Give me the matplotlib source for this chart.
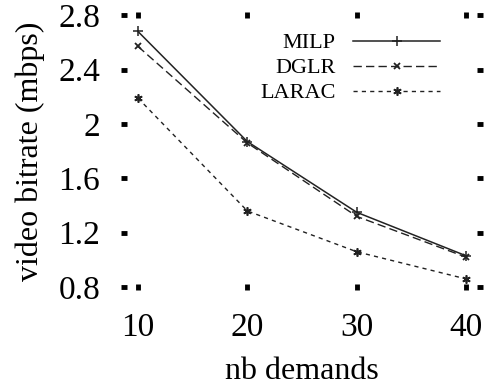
import matplotlib

matplotlib.use("Agg")
import matplotlib.pyplot as plt

plt.rcParams["font.family"] = ["Liberation Serif", "DejaVu Serif"]

demands = [10, 20, 30, 40]
milp = [2.68, 1.87, 1.35, 1.03]
dglr = [2.57, 1.86, 1.32, 1.02]
larac = [2.19, 1.36, 1.06, 0.86]

yticks = [0.8, 1.2, 1.6, 2.0, 2.4, 2.8]
ytick_labels = ["0.8", "1.2", "1.6", "2", "2.4", "2.8"]

fig = plt.figure(figsize=(4.88, 3.88), dpi=100)
ax = fig.add_axes([0.254, 0.260, 0.730, 0.701])

ax.plot(demands, milp, color="#222222", linewidth=1.1, linestyle="-",
        marker="+", markersize=7, markeredgewidth=1.1, label="MILP")
ax.plot(demands, dglr, color="#222222", linewidth=1.0, linestyle=(0, (6, 3)),
        marker="x", markersize=5, markeredgewidth=1.3, label="DGLR")
ax.plot(demands, larac, color="#222222", linewidth=1.0, linestyle=(0, (3, 3)),
        marker=(6, 2, 0), markersize=6, markeredgewidth=1.2, label="LARAC")

ax.set_xlim(8.72, 41.28)
ax.set_ylim(0.8, 2.8)
ax.set_xticks(demands)
ax.set_yticks(yticks)
ax.set_yticklabels(ytick_labels)

# gnuplot-like look: no border, square tick marks on all four sides
for spine in ax.spines.values():
    spine.set_visible(False)
ax.tick_params(axis="both", which="major", direction="inout", length=4, width=3.5,
               color="black", labelsize=24, top=True, right=True)
ax.tick_params(axis="y", pad=15)
ax.tick_params(axis="x", pad=16)

ax.set_xlabel("nb demands", fontsize=23)
ax.set_ylabel("video bitrate (mbps)", fontsize=23)
ax.xaxis.set_label_coords(0.5, -0.257)
ax.xaxis.label.set_va("top")
ax.yaxis.set_label_coords(-0.222, 0.5)

ax.legend(loc="upper right", bbox_to_anchor=(0.918, 0.976), frameon=False,
          markerfirst=False, numpoints=1, fontsize=16, handlelength=3.9,
          handletextpad=0.8, labelspacing=0.2, borderpad=0)

fig.savefig("out.png", dpi=100)
